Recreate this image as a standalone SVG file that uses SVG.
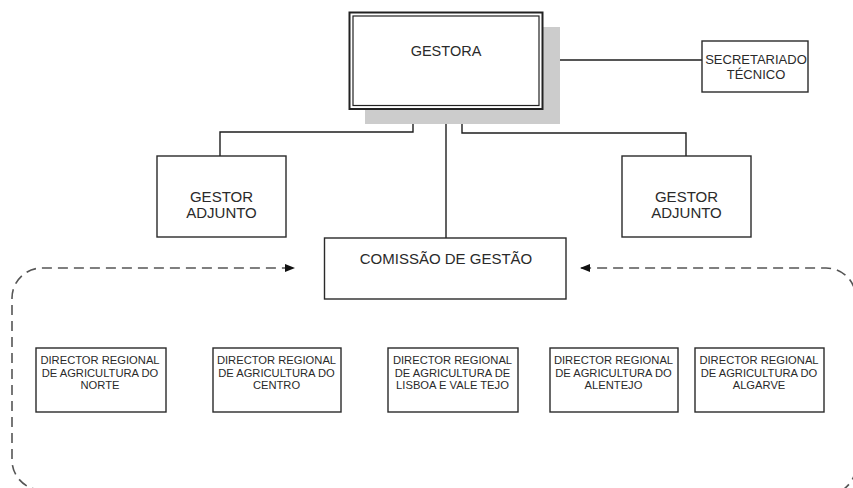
<svg xmlns="http://www.w3.org/2000/svg" width="853" height="488" viewBox="0 0 853 488">
<defs>
<style>
.box{fill:#fff;stroke:#2a2a2a;stroke-width:1.4}
.ln{fill:none;stroke:#1e1e1e;stroke-width:1.4}
.dash{fill:none;stroke:#555;stroke-width:1.6;stroke-dasharray:10 6}
.t{font-family:"Liberation Sans",Arial,sans-serif;fill:#2a2a2a;text-anchor:middle}
.big{font-size:14.5px}
.sm{font-size:11.2px}
</style>
<marker id="ah" viewBox="0 0 10 8" refX="10" refY="4" markerWidth="10" markerHeight="8" markerUnits="userSpaceOnUse" orient="auto">
<path d="M0,0 L10,4 L0,8 Z" fill="#111"/>
</marker>
</defs>
<rect width="853" height="488" fill="#fff"/>
<g id="connectors">
<path class="ln" d="M413,109 V132 H220 V156"/>
<path class="ln" d="M446,109 V238"/>
<path class="ln" d="M462,109 V133 H686 V156"/>
<path class="ln" d="M542,60 H702"/>
<path class="dash" d="M42,490 A30 30 0 0 1 12,460 V298 A30 30 0 0 1 42,268 H295" marker-end="url(#ah)"/>
<path class="dash" d="M826,495 A30 30 0 0 0 856,465 V298 A30 30 0 0 0 826,268 H580" marker-end="url(#ah)"/>
</g>
<g id="gestora">
<rect x="365" y="27" width="195" height="97" fill="#cccccc"/>
<rect x="349.5" y="12.5" width="193" height="96.5" fill="#fff" stroke="#222" stroke-width="2"/>
<rect x="353" y="16" width="186" height="89.5" fill="none" stroke="#222" stroke-width="1.2"/>
<text class="t big" x="446" y="56">GESTORA</text>
</g>
<g id="secretariado">
<rect class="box" x="702" y="41" width="106" height="51"/>
<text class="t" style="font-size:13px" x="756" y="64">SECRETARIADO</text>
<text class="t" style="font-size:13px" x="756" y="79">TÉCNICO</text>
</g>
<g id="gestor-adjunto-esq">
<rect class="box" x="157" y="156" width="129" height="81"/>
<text class="t" style="font-size:15px" x="221.5" y="202">GESTOR</text>
<text class="t" style="font-size:15px" x="221.5" y="218">ADJUNTO</text>
</g>
<g id="gestor-adjunto-dir">
<rect class="box" x="622" y="156" width="129" height="81"/>
<text class="t" style="font-size:15px" x="686.5" y="202">GESTOR</text>
<text class="t" style="font-size:15px" x="686.5" y="218">ADJUNTO</text>
</g>
<g id="comissao">
<rect class="box" x="324.5" y="238" width="241.5" height="61"/>
<text class="t" style="font-size:15px" x="446" y="264">COMISSÃO DE GESTÃO</text>
</g>
<g id="dr-norte">
<rect class="box" x="36" y="348" width="130" height="64"/>
<text class="t sm" x="100" y="364">DIRECTOR REGIONAL</text>
<text class="t sm" x="100" y="376.5">DE AGRICULTURA DO</text>
<text class="t sm" x="100" y="389">NORTE</text>
</g>
<g id="dr-centro">
<rect class="box" x="213" y="348" width="128" height="64"/>
<text class="t sm" x="276.5" y="364">DIRECTOR REGIONAL</text>
<text class="t sm" x="276.5" y="376.5">DE AGRICULTURA DO</text>
<text class="t sm" x="276.5" y="389">CENTRO</text>
</g>
<g id="dr-lisboa">
<rect class="box" x="388" y="348" width="130" height="64"/>
<text class="t sm" x="452.5" y="364">DIRECTOR REGIONAL</text>
<text class="t sm" x="452.5" y="376.5">DE AGRICULTURA DE</text>
<text class="t sm" x="452.5" y="389">LISBOA E VALE TEJO</text>
</g>
<g id="dr-alentejo">
<rect class="box" x="550" y="348" width="128" height="64"/>
<text class="t sm" x="613.5" y="364">DIRECTOR REGIONAL</text>
<text class="t sm" x="613.5" y="376.5">DE AGRICULTURA DO</text>
<text class="t sm" x="613.5" y="389">ALENTEJO</text>
</g>
<g id="dr-algarve">
<rect class="box" x="695" y="348" width="129" height="64"/>
<text class="t sm" x="759" y="364">DIRECTOR REGIONAL</text>
<text class="t sm" x="759" y="376.5">DE AGRICULTURA DO</text>
<text class="t sm" x="759" y="389">ALGARVE</text>
</g>
</svg>
